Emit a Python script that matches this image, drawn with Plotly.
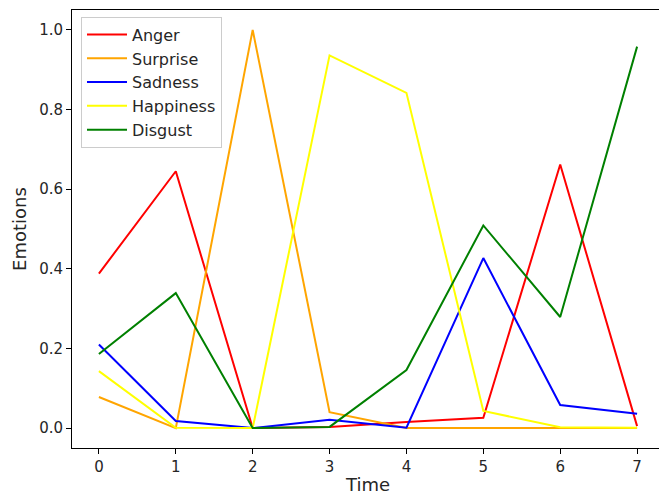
import plotly.graph_objects as go

time = [0, 1, 2, 3, 4, 5, 6, 7]
anger = [0.388, 0.645, 0.0, 0.003, 0.015, 0.026, 0.662, 0.005]
surprise = [0.078, 0.0, 1.0, 0.04, 0.0, 0.0, 0.001, 0.0]
sadness = [0.21, 0.018, 0.0, 0.021, 0.001, 0.427, 0.058, 0.036]
happiness = [0.143, 0.001, 0.0, 0.936, 0.842, 0.043, 0.002, 0.001]
disgust = [0.186, 0.339, 0.0, 0.003, 0.146, 0.509, 0.279, 0.958]

names = ["Anger", "Surprise", "Sadness", "Happiness", "Disgust"]
series = [anger, surprise, sadness, happiness, disgust]
colors = ["red", "orange", "blue", "yellow", "green"]
y_ticks = [0.0, 0.2, 0.4, 0.6, 0.8, 1.0]

fig = go.Figure()
for n, s, c in zip(names, series, colors):
    fig.add_trace(go.Scatter(x=time, y=s, mode="lines", name=n, legendgroup=n,
                             line=dict(color=c, width=2)))

font = "DejaVu Sans, sans-serif"
fig.update_layout(
    width=664, height=495,
    margin=dict(l=72, r=0, t=10, b=47),
    paper_bgcolor="white", plot_bgcolor="white",
    font=dict(family=font, size=15, color="#262626"),
    showlegend=True,
    legend=dict(x=0.0152, y=0.985, xanchor="left", yanchor="top",
                bgcolor="rgba(255,255,255,0.8)", bordercolor="#cccccc",
                borderwidth=1, font=dict(size=16, color="#262626"),
                itemwidth=40, tracegroupgap=0),
)
fig.update_xaxes(range=[-0.35, 7.35], tickvals=time, ticks="outside", ticklen=5,
                 tickcolor="black", showline=True, linecolor="black", linewidth=1,
                 mirror=True, showgrid=False, zeroline=False,
                 title=dict(text="Time", standoff=5))
fig.update_yaxes(range=[-0.05, 1.05], tickvals=y_ticks, tickformat=".1f",
                 ticks="outside", ticklen=5, tickcolor="black", showline=True,
                 linecolor="black", linewidth=1, mirror=True, showgrid=False,
                 zeroline=False, title=dict(text="Emotions", standoff=7))

fig.write_html("out.html", config={"displayModeBar": False},
               post_script="document.body.style.margin='0';document.body.style.overflow='hidden';")
